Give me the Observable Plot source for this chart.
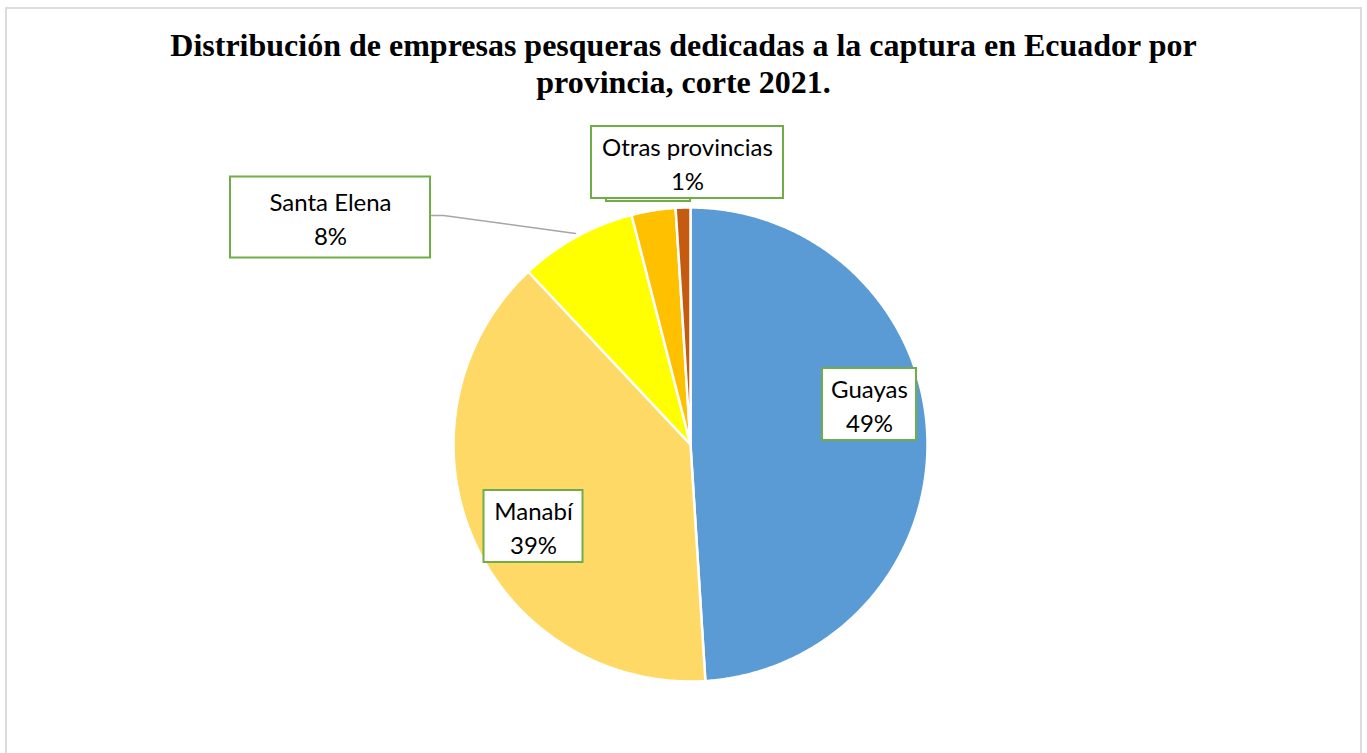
<!DOCTYPE html>
<html>
<head>
<meta charset="utf-8">
<script src="https://cdn.jsdelivr.net/npm/d3@7"></script>
<script src="https://cdn.jsdelivr.net/npm/@observablehq/plot@0.6"></script>
<style>
  html, body { margin: 0; padding: 0; background: #fff; }
  #wrap { position: relative; width: 1367px; height: 753px; overflow: hidden; }
  #frame { position: absolute; left: 5px; top: 7px; width: 1357px; height: 760px;
           border: 2px solid #dcdcdc; box-sizing: border-box; }
  #title { position: absolute; left: 0; top: 27px; width: 1367px; text-align: center;
           font-family: "Liberation Serif", "Times New Roman", serif; font-weight: bold;
           font-size: 32px; line-height: 37px; color: #000; }
  #chart { position: absolute; left: 0; top: 0; }
</style>
</head>
<body>
<div id="wrap">
  <div id="frame"></div>
  <div id="chart"></div>
  <div id="title">Distribución de empresas pesqueras dedicadas a la captura en Ecuador por<br>provincia, corte 2021.</div>
</div>
<script>
// ---- data ----
const provinces = ["Guayas", "Manabí", "Santa Elena", "El Oro", "Otras provincias"];
const shares = [49, 39, 8, 3, 1];
const colors = ["#5B9BD5", "#FFD966", "#FFFF00", "#FFC000", "#C55A11"];

// ---- layout (pixel space) ----
const W = 1367, H = 753;
const cx = 690, cy = 444, R = 237;
// label boxes: centre and size, in pixels (El Oro's box is hidden behind "Otras provincias")
const labelLayout = [
  {name: "El Oro", x: 648, y: 165, w: 84, h: 72, hidden: true},
  {name: "Otras provincias", x: 687, y: 162, w: 192, h: 72},
  {name: "Santa Elena", x: 330, y: 217, w: 200, h: 81},
  {name: "Guayas", x: 869, y: 404, w: 94, h: 72},
  {name: "Manabí", x: 533, y: 526, w: 99, h: 72}
];
const leader = [{x: 430, y: 215}, {x: 443, y: 215}, {x: 575, y: 233}];

const pie = d3.pie().sort(null).value(d => d.value)(
  provinces.map((name, i) => ({name, value: shares[i]}))
);
const slicePts = [];
for (const s of pie) {
  const n = Math.max(2, Math.ceil((s.endAngle - s.startAngle) / (Math.PI / 360)));
  slicePts.push({name: s.data.name, x: cx, y: cy});
  for (let k = 0; k <= n; k++) {
    const a = s.startAngle + (s.endAngle - s.startAngle) * k / n;
    slicePts.push({name: s.data.name, x: cx + R * Math.sin(a), y: cy - R * Math.cos(a)});
  }
  slicePts.push({name: s.data.name, x: cx, y: cy});
}

const labels = labelLayout.map(l => {
  const i = provinces.indexOf(l.name);
  return {...l, text: `${l.name}\n${shares[i]}%`,
          x1: l.x - l.w / 2, x2: l.x + l.w / 2, y1: l.y - l.h / 2, y2: l.y + l.h / 2};
});

const chart = Plot.plot({
  width: W, height: H, margin: 0,
  x: {domain: [0, W], range: [0, W], axis: null},
  y: {domain: [0, H], range: [0, H], axis: null},
  color: {domain: provinces, range: colors},
  style: {background: "transparent"},
  marks: [
    Plot.line(slicePts, {x: "x", y: "y", z: "name", fill: "name", stroke: "white", strokeWidth: 2.5, strokeLinejoin: "round"}),
    Plot.line(leader, {x: "x", y: "y", stroke: "#a6a6a6", strokeWidth: 1.5}),
    ...labels.flatMap(l => [
      Plot.rect([l], {x1: "x1", x2: "x2", y1: "y1", y2: "y2", fill: "white", stroke: "#70AD47", strokeWidth: 2}),
      ...(l.hidden ? [] : [Plot.text([l], {x: "x", y: "y", text: "text", fontSize: 24, lineHeight: 1.4, fill: "#000",
        fontFamily: "Lato, 'Open Sans', sans-serif"})])
    ])
  ]
});
document.getElementById("chart").appendChild(chart);
</script>
</body>
</html>
